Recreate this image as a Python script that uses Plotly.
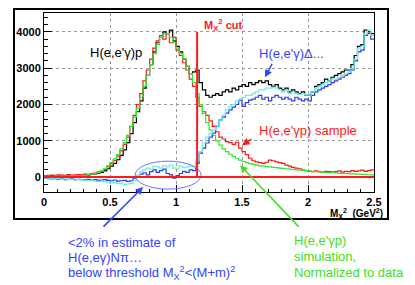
import numpy as np
import plotly.graph_objects as go

# ---------------- data (bin width 0.025 GeV^2, 100 bins from 0 to 2.5) ----------------
bin_width = 0.025
n_bins = 100

data_egp = [40, 30, 50, 40, 30, 50, 40, 60, 50, 40, 60, 50,
            70, 60, 80, 90,
            110, 130, 170, 230,
            300, 380, 480, 600,
            750, 950, 1200, 1500,
            1800, 2100, 2450, 2800,
            3100, 3450, 3700, 3850,
            4000, 3950, 4050, 3750,
            3600, 3450, 3250, 3050,
            2850, 2900, 2950, 2600,
            2400, 2250, 2200, 2250,
            2300, 2250, 2350, 2400,
            2350, 2450, 2400, 2500,
            2550, 2500, 2600, 2550,
            2600, 2650, 2600, 2650,
            2550, 2500, 2550, 2450,
            2400, 2450, 2350, 2400,
            2350, 2300, 2350, 2250,
            2250, 2350, 2500, 2550,
            2600, 2700, 2650, 2750,
            2800, 2850, 2900, 2950,
            2950, 3100, 3350, 3600,
            3650, 4050, 4000, 3950]

sample_egp = [40, 50, 30, 50, 60, 40, 50, 60, 40, 60, 70, 60,
              80, 70, 100, 110,
              140, 160, 210, 290,
              370, 460, 580, 720,
              900, 1100, 1400, 1700,
              2000, 2300, 2650, 2950,
              3250, 3550, 3750, 3900,
              3800, 3950, 3700, 3850,
              3500, 3350, 3150, 2950,
              2700, 2500, 2200, 1950,
              1800, 1700, 1550, 1400,
              1250, 1100, 1050, 980,
              950, 900, 960, 800,
              700, 620, 520, 450,
              420, 400, 380, 410,
              470, 450, 420, 400,
              380, 330, 300, 270,
              250, 230, 200, 180,
              160, 150, 170, 150,
              140, 160, 150, 140,
              150, 170, 140, 160,
              150, 180, 160, 170,
              190, 160, 180, 200]

simulation_egp = [20, 20, 20, 25, 25, 30, 30, 30, 35, 40, 40, 45,
                  55, 65, 80, 100,
                  130, 170, 230, 310,
                  400, 500, 620, 780,
                  950, 1150, 1400, 1650,
                  1900, 2200, 2500, 2800,
                  3100, 3400, 3650, 3850,
                  3950, 3950, 3850, 3700,
                  3550, 3400, 3250, 3050,
                  2850, 2600, 2300, 2000,
                  1750, 1500, 1300, 1150,
                  1000, 880, 780, 700,
                  630, 570, 520, 470,
                  430, 400, 370, 350,
                  330, 310, 300, 290,
                  280, 270, 260, 250,
                  240, 230, 220, 210,
                  200, 195, 190, 180,
                  170, 160, 150, 145,
                  140, 130, 125, 120,
                  115, 110, 105, 100,
                  95, 90, 85, 80,
                  75, 70, 65, 60]

delta_blue = [-30, -40, -50, -40, -60, -50, -70, -60, -50, -70, -60, -80,
              -70, -60, -80, -70,
              -90, -80, -70, -90,
              -100, -80, -110, -100,
              -90, -120, -100, -30,
              30, 80, 120, 60,
              150, 200, 130, 180,
              220, 100, 60, -30,
              40, 100, 160, 130,
              200, 180, 380, 660,
              800, 940, 1100, 1210,
              1400, 1570, 1650, 1760,
              1850, 1930, 2000, 2120,
              1950, 2050, 2120, 2150,
              2200, 2250, 2150, 2200,
              2100, 2200, 2250, 2200,
              2150, 2200, 2150, 2100,
              2200, 2150, 2100, 2150,
              2100, 2250, 2350, 2400,
              2450, 2500, 2550, 2600,
              2650, 2700, 2750, 2800,
              2850, 2950, 3200, 3450,
              3500, 3900, 3950, 3800]

delta_cyan = [-20, -30, -40, -50, -40, -60, -50, -70, -60, -80, -70, -90,
              -80, -100, -90, -110,
              -120, -110, -130, -150,
              -160, -150, -180, -170,
              -200, -190, -170, -100,
              50, 150, 200, 250,
              220, 300, 280, 250,
              320, 280, 340, 250,
              230, 300, 260, 280,
              300, 290, 470, 700,
              940, 1100, 1200, 1300,
              1380, 1550, 1700, 1850,
              1950, 2000, 2100, 2150,
              2200, 2250, 2250, 2300,
              2350, 2400, 2400, 2450,
              2450, 2480, 2450, 2400,
              2350, 2400, 2300, 2350,
              2300, 2280, 2300, 2260,
              2260, 2350, 2450, 2500,
              2550, 2600, 2650, 2700,
              2700, 2750, 2800, 2850,
              2900, 3000, 3250, 3550,
              3600, 3950, 4050, 3900]

mx2_cut = 1.16
cut_height = 4000
x_tick_vals = [0, 0.5, 1, 1.5, 2, 2.5]
x_tick_text = ["0", "0.5", "1", "1.5", "2", "2.5"]
y_tick_vals = [0, 1000, 2000, 3000, 4000]
y_tick_text = ["0", "1000", "2000", "3000", "4000"]

# ---------------- figure ----------------
edges = np.arange(n_bins + 1) * bin_width

FONT = "Liberation Sans, Arial, Helvetica, sans-serif"
BLACK = "#000000"
RED = "#ff1a1a"
GREEN = "#33e633"
BLUE = "#2f3cf0"
CYAN = "#66f2e0"
TXT_BLUE = "#3344ff"
TXT_GREEN = "#44dd22"

fig = go.Figure()


def hist(values, color, width=1.2):
    fig.add_trace(go.Scatter(
        x=edges, y=list(values) + [values[-1]],
        mode="lines", line=dict(color=color, width=width, shape="hv"),
        showlegend=False, hoverinfo="skip"))


hist(data_egp, BLACK)
hist(sample_egp, RED)
hist(simulation_egp, GREEN)
hist(delta_blue, BLUE)
hist(delta_cyan, CYAN)

# page offset of the figure (browser body margin)
OFF = 8
W_PLOT = 330.0
H_PLOT = 179.0
L = 44 - OFF
T = 13 - OFF
FIG_W = 415 - OFF
FIG_H = 285 - OFF


def px(xp):
    # page pixel x -> paper
    return (xp - OFF - L) / W_PLOT


def py(yp):
    # page pixel y -> paper
    return (T + H_PLOT - (yp - OFF)) / H_PLOT


# ellipse around region below threshold
fig.add_shape(type="circle", xref="x", yref="y",
              x0=0.69, x1=1.19, y0=-330, y1=440,
              line=dict(color="#6f6fff", width=1))

# zero line and cut line
fig.add_shape(type="line", xref="x", yref="y", x0=0, x1=2.5, y0=0, y1=0,
              line=dict(color=RED, width=2))
fig.add_shape(type="line", xref="x", yref="y", x0=mx2_cut, x1=mx2_cut, y0=0, y1=cut_height,
              line=dict(color=RED, width=2))

# outer frame
fig.add_shape(type="rect", xref="paper", yref="paper",
              x0=px(14), x1=px(388), y0=py(219), y1=py(9),
              line=dict(color=BLACK, width=2))


def text(xp, yp, s, color, size=13, anchor="left", bold=False):
    fig.add_annotation(xref="paper", yref="paper", x=px(xp), y=py(yp),
                       text=s, showarrow=False, xanchor=anchor, yanchor="middle",
                       font=dict(family=FONT, size=size, color=color,
                                 weight="bold" if bold else "normal"))


def arrow(hx, hy, ax, ay, color):
    fig.add_annotation(xref="x", yref="y", x=hx, y=hy, ax=ax, ay=ay,
                       text="", showarrow=True, arrowhead=2, arrowsize=1,
                       arrowwidth=1.5, arrowcolor=color)


text(88, 52, "H(e,e'γ)p", BLACK, 13)
text(257, 53, "H(e,e'γ)Δ...", TXT_BLUE, 13)
text(257, 130, "H(e,e'γp) sample", RED, 13)
text(202, 25, "M<sub>X</sub><sup>2</sup> cut", RED, 11, bold=True)
text(385, 213, "M<sub>X</sub><sup>2</sup>  (GeV<sup>2</sup>)", BLACK, 10, anchor="right", bold=True)

text(66, 242, "&lt;2% in estimate of", TXT_BLUE, 13)
text(66, 257, "H(e,eγ)Nπ…", TXT_BLUE, 13)
text(66, 273, "below threshold M<sub>X</sub><sup>2</sup>&lt;(M+m)<sup>2</sup>", TXT_BLUE, 13)

text(292, 240, "H(e,e'γp)", TXT_GREEN, 13)
text(292, 256, "simulation,", TXT_GREEN, 13)
text(292, 272, "Normalized to data", TXT_GREEN, 13)

# arrows (head in data coords, tail as pixel offsets)
arrow(1.674, 2750, 8, -15, TXT_BLUE)
arrow(1.50, 880, 11, -7, RED)
arrow(1.485, 330, 60, 63, TXT_GREEN)
arrow(0.75, -275, -41, 41, TXT_BLUE)

axis_common = dict(
    showline=True, mirror=True, linecolor=BLACK, linewidth=1,
    ticks="inside", tickcolor=BLACK, zeroline=False,
    showgrid=True, gridcolor="#9a9a9a", griddash="dot", gridwidth=1,
    tickfont=dict(family=FONT, size=11, color=BLACK, weight="bold"),
)

fig.update_xaxes(range=[0, 2.5], tickvals=x_tick_vals, ticktext=x_tick_text,
                 ticklen=7,
                 minor=dict(ticks="inside", ticklen=3, dtick=0.1, tick0=0,
                            tickcolor=BLACK, showgrid=False),
                 **axis_common)
fig.update_yaxes(range=[-410, 4520], tickvals=y_tick_vals, ticktext=y_tick_text,
                 ticklen=8,
                 minor=dict(ticks="inside", ticklen=4, dtick=200, tick0=0,
                            tickcolor=BLACK, showgrid=False),
                 **axis_common)

fig.update_layout(
    width=FIG_W, height=FIG_H,
    margin=dict(l=L, r=FIG_W - L - int(W_PLOT), t=T, b=FIG_H - T - int(H_PLOT)),
    paper_bgcolor="white", plot_bgcolor="white",
    showlegend=False,
    font=dict(family=FONT),
)

fig.write_html("out.html")
